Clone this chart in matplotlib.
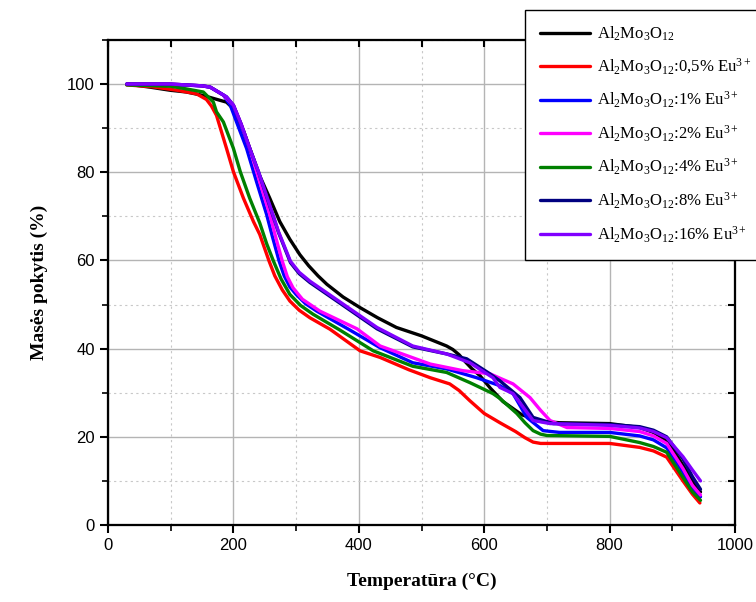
import matplotlib

matplotlib.use("Agg")
import matplotlib.pyplot as plt
from matplotlib.ticker import MultipleLocator

plt.rcParams["mathtext.fontset"] = "custom"
plt.rcParams["mathtext.rm"] = "Liberation Serif"
plt.rcParams["mathtext.it"] = "Liberation Serif:italic"

# --- data (temperature in C, mass in %) ---
t_black = [30, 67, 99, 125, 152, 179, 189, 200, 216, 232, 240, 258, 274, 290, 306, 320, 335,
           349, 375, 402, 430, 460, 500, 540, 550, 560, 570, 580, 593, 610, 630, 660, 690, 720,
           800, 848, 870, 891, 912, 930, 945]
m_black = [100, 99.3, 98.6, 98.2, 97.4, 96.3, 95.9, 94.4, 89.4, 83.1, 79.8, 74.1, 68.8, 64.8,
           61.3, 58.8, 56.5, 54.6, 51.7, 49.3, 47, 44.8, 42.9, 40.6, 39.8, 38.6, 37, 35.5, 33.9,
           31, 28, 25, 23.5, 23.2, 23, 22.1, 21, 19.2, 14.7, 10.5, 7.5]

t_red = [30, 70, 110, 141, 157, 165, 173, 189, 200, 216, 232, 242, 257, 266, 278, 290, 305, 322,
         354, 402, 434, 480, 514, 545, 560, 577, 600, 625, 650, 665, 678, 690, 800, 848, 870,
         891, 917, 932, 944]
m_red = [99.8, 99.4, 98.6, 97.8, 96.5, 95, 92.9, 85.4, 80.1, 74.1, 68.8, 65.9, 59.8, 56.5, 53.3,
         50.8, 48.7, 47, 44.4, 39.5, 38, 35.2, 33.4, 32, 30.5, 28.2, 25.3, 23.2, 21.2, 19.8, 18.8,
         18.5, 18.5, 17.6, 16.8, 15.4, 10, 7, 5]

t_blue = [30, 100, 150, 163, 184, 195, 205, 221, 237, 253, 262, 273, 281, 290, 300, 315, 333,
          386, 434, 486, 540, 588, 625, 646, 668, 694, 720, 800, 848, 870, 891, 917, 932, 945]
m_blue = [100, 99.9, 99.6, 99.3, 97.5, 95.2, 91.4, 85.4, 77.8, 70.4, 65.5, 59.8, 56.5, 54, 52.3,
          50.2, 48.5, 44.2, 40.2, 36.8, 35.4, 33.4, 31.6, 29.8, 24.4, 21.4, 21, 21, 20.2, 19.3,
          17.5, 12, 8.5, 6.4]

t_magenta = [30, 100, 150, 163, 184, 200, 213, 226, 242, 258, 268, 278, 286, 295, 310, 338,
             397, 434, 514, 566, 609, 646, 673, 690, 705, 732, 800, 848, 870, 891, 917, 932, 945]
m_magenta = [100, 100, 99.6, 99.3, 97.5, 95.2, 90.7, 85.4, 77.8, 70.4, 65, 59.8, 56.3, 53.8,
             51.2, 48.5, 44.5, 40.6, 36.5, 35, 34.3, 32, 28.9, 26, 23.7, 22.1, 21.9, 21.2, 20.2,
             18.5, 12.8, 9, 6.8]

t_green = [30, 100, 125, 152, 168, 173, 184, 200, 211, 226, 242, 253, 264, 276, 290, 307, 327,
           370, 423, 486, 540, 577, 614, 625, 652, 665, 678, 690, 700, 800, 848, 870, 891, 917,
           932, 945]
m_green = [99.8, 99.5, 98.9, 98.2, 95.9, 93.7, 91.4, 85.4, 80.1, 74.1, 68.5, 63.8, 59.8, 55.8,
           52.3, 49.8, 47.8, 44.2, 39.5, 36, 34.6, 32.3, 29.8, 28.7, 25.3, 23.2, 21.4, 20.6, 20.3,
           20.1, 18.7, 17.8, 16.5, 10.8, 7.5, 5.6]

t_navy = [30, 100, 150, 163, 189, 200, 212, 226, 240, 258, 272, 291, 305, 322, 375, 429, 486,
          540, 572, 609, 625, 657, 678, 710, 800, 848, 870, 891, 917, 932, 945]
m_navy = [100, 100, 99.6, 99.3, 97.1, 95.2, 91, 85.4, 80.1, 72.3, 66.3, 59.5, 57, 55, 49.8,
          44.5, 40.4, 38.8, 37.7, 34.3, 32.7, 28.9, 24.4, 23, 22.8, 22.3, 21.5, 20, 15, 11, 8.1]

t_violet = [30, 100, 150, 163, 189, 200, 212, 226, 240, 258, 272, 291, 305, 322, 375, 429, 486,
            540, 577, 614, 625, 646, 678, 705, 800, 848, 870, 891, 917, 932, 945]
m_violet = [100, 100, 99.6, 99.3, 97.1, 95.2, 91, 85.4, 80.1, 72.5, 66.5, 59.8, 57.3, 55.3, 50.1,
            44.8, 40.6, 38.8, 36.8, 33.4, 31.2, 29.8, 23.7, 23, 22.6, 22, 21.2, 19.8, 15.5, 12.5,
            10]

series = [
    (t_black, m_black, "black", r"Al$_2$Mo$_3$O$_{12}$"),
    (t_red, m_red, "#ff0000", r"Al$_2$Mo$_3$O$_{12}$:0,5% Eu$^{3+}$"),
    (t_blue, m_blue, "#0000ff", r"Al$_2$Mo$_3$O$_{12}$:1% Eu$^{3+}$"),
    (t_magenta, m_magenta, "#ff00ff", r"Al$_2$Mo$_3$O$_{12}$:2% Eu$^{3+}$"),
    (t_green, m_green, "#008000", r"Al$_2$Mo$_3$O$_{12}$:4% Eu$^{3+}$"),
    (t_navy, m_navy, "#000080", r"Al$_2$Mo$_3$O$_{12}$:8% Eu$^{3+}$"),
    (t_violet, m_violet, "#8000ff", r"Al$_2$Mo$_3$O$_{12}$:16% Eu$^{3+}$"),
]

fig = plt.figure(figsize=(7.56, 6.02), dpi=100)
ax = fig.add_axes([0.1429, 0.1279, 0.8293, 0.8057])

for t, m, color, label in series:
    ax.plot(t, m, color=color, lw=2.4, label=label,
            solid_joinstyle="round", solid_capstyle="round")

ax.set_xlim(0, 1000)
ax.set_ylim(0, 110)
ax.xaxis.set_major_locator(MultipleLocator(200))
ax.xaxis.set_minor_locator(MultipleLocator(100))
ax.yaxis.set_major_locator(MultipleLocator(20))
ax.yaxis.set_minor_locator(MultipleLocator(10))
ax.grid(which="major", color="#b4b4b4", lw=1.0)
ax.grid(which="minor", color="#c8c8c8", lw=0.8, linestyle=(0, (2, 3)))
ax.set_axisbelow(True)

for sp in ax.spines.values():
    sp.set_linewidth(1.5)
ax.tick_params(which="major", direction="out", length=6, width=1.5,
               labelsize=12, labelfontfamily="Liberation Sans")
ax.tick_params(which="minor", direction="out", length=4, width=1.2)

# inward ticks on the right and top sides
ax_r = ax.twinx()
ax_r.set_ylim(ax.get_ylim())
ax_r.yaxis.set_major_locator(MultipleLocator(20))
ax_r.yaxis.set_minor_locator(MultipleLocator(10))
ax_r.tick_params(which="both", direction="in", length=5, width=1.5, labelright=False)
ax_t = ax.twiny()
ax_t.set_xlim(ax.get_xlim())
ax_t.xaxis.set_major_locator(MultipleLocator(200))
ax_t.xaxis.set_minor_locator(MultipleLocator(100))
ax_t.tick_params(which="both", direction="in", length=5, width=1.5, labeltop=False)
for a in (ax_r, ax_t):
    for sp in a.spines.values():
        sp.set_linewidth(1.5)

ax.set_xlabel("Temperatūra (°C)", family="Liberation Serif", fontweight="bold",
              fontsize=14, labelpad=14)
ax.set_ylabel("Masės pokytis (%)", family="Liberation Serif", fontweight="bold",
              fontsize=14, labelpad=14)

leg = ax_t.legend(*ax.get_legend_handles_labels(), loc="upper left",
                  bbox_to_anchor=(525 / 756, 1 - 10 / 602), bbox_transform=fig.transFigure,
                  prop={"family": "Liberation Serif", "size": 12}, frameon=True,
                  fancybox=False, edgecolor="black", framealpha=1, handlelength=3.0,
                  labelspacing=0.8, borderpad=0.9, handletextpad=0.4, borderaxespad=0)
leg.get_frame().set_linewidth(1.0)

fig.savefig("out.png", dpi=100)
